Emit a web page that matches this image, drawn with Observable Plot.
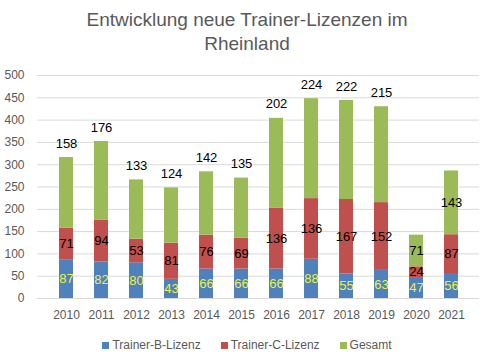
<!DOCTYPE html>
<html>
<head>
<meta charset="utf-8">
<script src="https://cdn.jsdelivr.net/npm/d3@7"></script>
<script src="https://cdn.jsdelivr.net/npm/@observablehq/plot@0.6"></script>
<style>
  body { margin: 0; background: #fff; font-family: "Liberation Sans", Arial, sans-serif; }
  #wrap { width: 494px; height: 363px; position: relative; overflow: hidden; }
  #title { text-align: center; color: #595959; font-size: 19px; line-height: 24px; padding-top: 8px; height: 48px; }
  #legend { text-align: center; color: #595959; font-size: 12px; margin-top: 6px; }
  #legend span.item { margin: 0 10px; white-space: nowrap; }
  #legend span.sw { display: inline-block; width: 7px; height: 7px; margin-right: 3px; vertical-align: 0px; }
</style>
</head>
<body>
<div id="wrap">
  <div id="title">Entwicklung neue Trainer-Lizenzen im<br>Rheinland</div>
  <div id="chart"></div>
  <div id="legend"></div>
</div>
<script>
const years = ["2010","2011","2012","2013","2014","2015","2016","2017","2018","2019","2020","2021"];
const seriesNames = ["Trainer-B-Lizenz", "Trainer-C-Lizenz", "Gesamt"];
const bLizenz = [87, 82, 80, 43, 66, 66, 66, 88, 55, 63, 47, 56];
const cLizenz = [71, 94, 53, 81, 76, 69, 136, 136, 167, 152, 24, 87];
const gesamt  = [158, 176, 133, 124, 142, 135, 202, 224, 222, 215, 71, 143];
const yTicks = [0, 50, 100, 150, 200, 250, 300, 350, 400, 450, 500];
const gesamtLabelInside = ["2020", "2021"];

const seriesColors = ["#4F81BD", "#C0504D", "#9BBB59"];
const seriesValues = [bLizenz, cLizenz, gesamt];

const data = [];
years.forEach((yr, i) => {
  seriesNames.forEach((s, j) => data.push({year: yr, series: s, value: seriesValues[j][i]}));
});

const stackOpts = {x: "year", y: "value", z: "series", order: seriesNames};

const chart = Plot.plot({
  width: 494,
  height: 276,
  marginTop: 19,
  marginBottom: 34,
  marginLeft: 37,
  marginRight: 15,
  style: {fontFamily: "Liberation Sans, Arial, sans-serif", fontSize: "12px", color: "#595959", background: "#fff"},
  x: {domain: years, padding: 0.6, label: null},
  y: {domain: [0, 500], label: null},
  color: {domain: seriesNames, range: seriesColors},
  marks: [
    Plot.gridY(yTicks, {stroke: "#d9d9d9", strokeOpacity: 1}),
    Plot.barY(data, Plot.stackY({...stackOpts, fill: "series"})),
    Plot.axisY(yTicks, {tickSize: 0, tickPadding: 13, fontSize: 12, fill: "#595959", label: null}),
    Plot.axisX({tickSize: 0, tickPadding: 12, fontSize: 12, fill: "#595959", label: null}),
    Plot.ruleY([0], {stroke: "#d9d9d9"}),
    Plot.text(data, Plot.filter(d => d.series === "Trainer-B-Lizenz",
      Plot.stackY({...stackOpts, text: "value", fill: "#eef23c", fontSize: 13}))),
    Plot.text(data, Plot.filter(d => d.series === "Trainer-C-Lizenz",
      Plot.stackY({...stackOpts, text: "value", fill: "#000", fontSize: 13}))),
    Plot.text(data, Plot.filter(d => d.series === "Gesamt" && gesamtLabelInside.includes(d.year),
      Plot.stackY({...stackOpts, text: "value", fill: "#000", fontSize: 13}))),
    Plot.text(data, Plot.filter(d => d.series === "Gesamt" && !gesamtLabelInside.includes(d.year),
      Plot.stackY2({...stackOpts, text: "value", fill: "#000", fontSize: 13, dy: -14})))
  ]
});
document.getElementById("chart").appendChild(chart);

const legend = document.getElementById("legend");
seriesNames.forEach((s, j) => {
  const item = document.createElement("span");
  item.className = "item";
  const sw = document.createElement("span");
  sw.className = "sw";
  sw.style.background = seriesColors[j];
  item.appendChild(sw);
  item.appendChild(document.createTextNode(s));
  legend.appendChild(item);
});
</script>
</body>
</html>
